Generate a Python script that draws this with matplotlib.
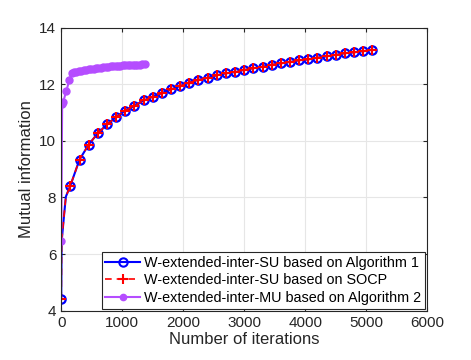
import matplotlib
matplotlib.use('Agg')
import matplotlib.pyplot as plt

plt.rcParams['font.family'] = ['Liberation Sans', 'DejaVu Sans']

# SU curves (markers every 150 iterations)
su_iter = [0, 150, 300, 450, 600, 750, 900, 1050, 1200, 1350, 1500, 1650, 1800,
           1950, 2100, 2250, 2400, 2550, 2700, 2850, 3000, 3150, 3300, 3450,
           3600, 3750, 3900, 4050, 4200, 4350, 4500, 4650, 4800, 4950, 5100]
su_alg1 = [4.43, 8.42, 9.34, 9.87, 10.27, 10.58, 10.84, 11.07, 11.24, 11.43,
           11.56, 11.69, 11.82, 11.94, 12.06, 12.16, 12.23, 12.32, 12.39, 12.43,
           12.51, 12.57, 12.62, 12.69, 12.74, 12.79, 12.85, 12.88, 12.94, 12.99,
           13.04, 13.10, 13.13, 13.17, 13.22]
su_socp = su_alg1
# extra line samples for the steep start
head_iter = [0, 6, 44, 76, 150]
head_val = [4.43, 6.43, 7.32, 8.03, 8.42]

# MU curve
mu_iter = [0, 15, 30, 85, 135, 170, 210, 250, 290, 330, 370, 410, 450, 490, 530,
           570, 610, 650, 690, 730, 770, 810, 850, 890, 930, 970, 1010, 1050,
           1090, 1130, 1170, 1210, 1250, 1290, 1330, 1370]
mu_alg2 = [6.46, 11.30, 11.36, 11.78, 12.16, 12.40, 12.42, 12.44, 12.46, 12.48,
           12.50, 12.51, 12.53, 12.54, 12.55, 12.56, 12.58, 12.59, 12.60, 12.61,
           12.62, 12.63, 12.64, 12.645, 12.65, 12.66, 12.665, 12.67, 12.68,
           12.685, 12.69, 12.695, 12.70, 12.70, 12.705, 12.71]

labels = ['W-extended-inter-SU based on Algorithm 1',
          'W-extended-inter-SU based on SOCP',
          'W-extended-inter-MU based on Algorithm 2']

blue = '#0000ff'
red = '#ff0000'
purple = '#b54dff'

fig = plt.figure(figsize=(4.71, 3.6), dpi=100)
ax = fig.add_axes([0.130, 0.137, 0.777, 0.786])

line_x = head_iter + su_iter[2:]
line_y = head_val + su_alg1[2:]
ax.plot(line_x, line_y, color=blue, lw=1.5)
ax.plot(su_iter, su_alg1, ls='none', marker='o', ms=6, mfc='none', mec=blue, mew=1.6)
ax.plot(line_x, line_y, color=red, lw=1.2, ls=(0, (4, 3)))
ax.plot(su_iter, su_socp, ls='none', marker='+', ms=7, mec=red, mew=1.5)
ax.plot(mu_iter, mu_alg2, color=purple, lw=1.5, marker='o', ms=5,
        mfc=purple, mec=purple)

h1 = plt.Line2D([], [], color=blue, lw=1.5, marker='o', ms=6, mfc='none', mew=1.5)
h2 = plt.Line2D([], [], color=red, lw=1.2, ls=(0, (4, 3)), marker='+', ms=7, mew=1.5)
h3 = plt.Line2D([], [], color=purple, lw=1.5, marker='o', ms=4.5)
leg = ax.legend([h1, h2, h3], labels, loc='lower right', fontsize=10.4,
                fancybox=False, framealpha=1, edgecolor='#262626',
                handlelength=2.4, handletextpad=0.3, borderpad=0.25,
                labelspacing=0.25, borderaxespad=0.15)
leg.get_frame().set_linewidth(0.8)

ax.set_xlim(0, 6000)
ax.set_ylim(4, 14)
ax.set_xticks(range(0, 6001, 1000))
ax.set_yticks(range(4, 15, 2))
ax.grid(True, color='#e6e6e6', lw=0.8)
ax.set_axisbelow(True)
ax.tick_params(direction='in', labelsize=11, colors='#262626', length=3,
               top=True, right=True)
for s in ax.spines.values():
    s.set_color('#262626')
    s.set_linewidth(0.8)
ax.set_xlabel('Number of iterations', fontsize=12, color='#262626', labelpad=2)
ax.set_ylabel('Mutual information', fontsize=12, color='#262626', labelpad=4)

fig.savefig('out.png', dpi=100)
